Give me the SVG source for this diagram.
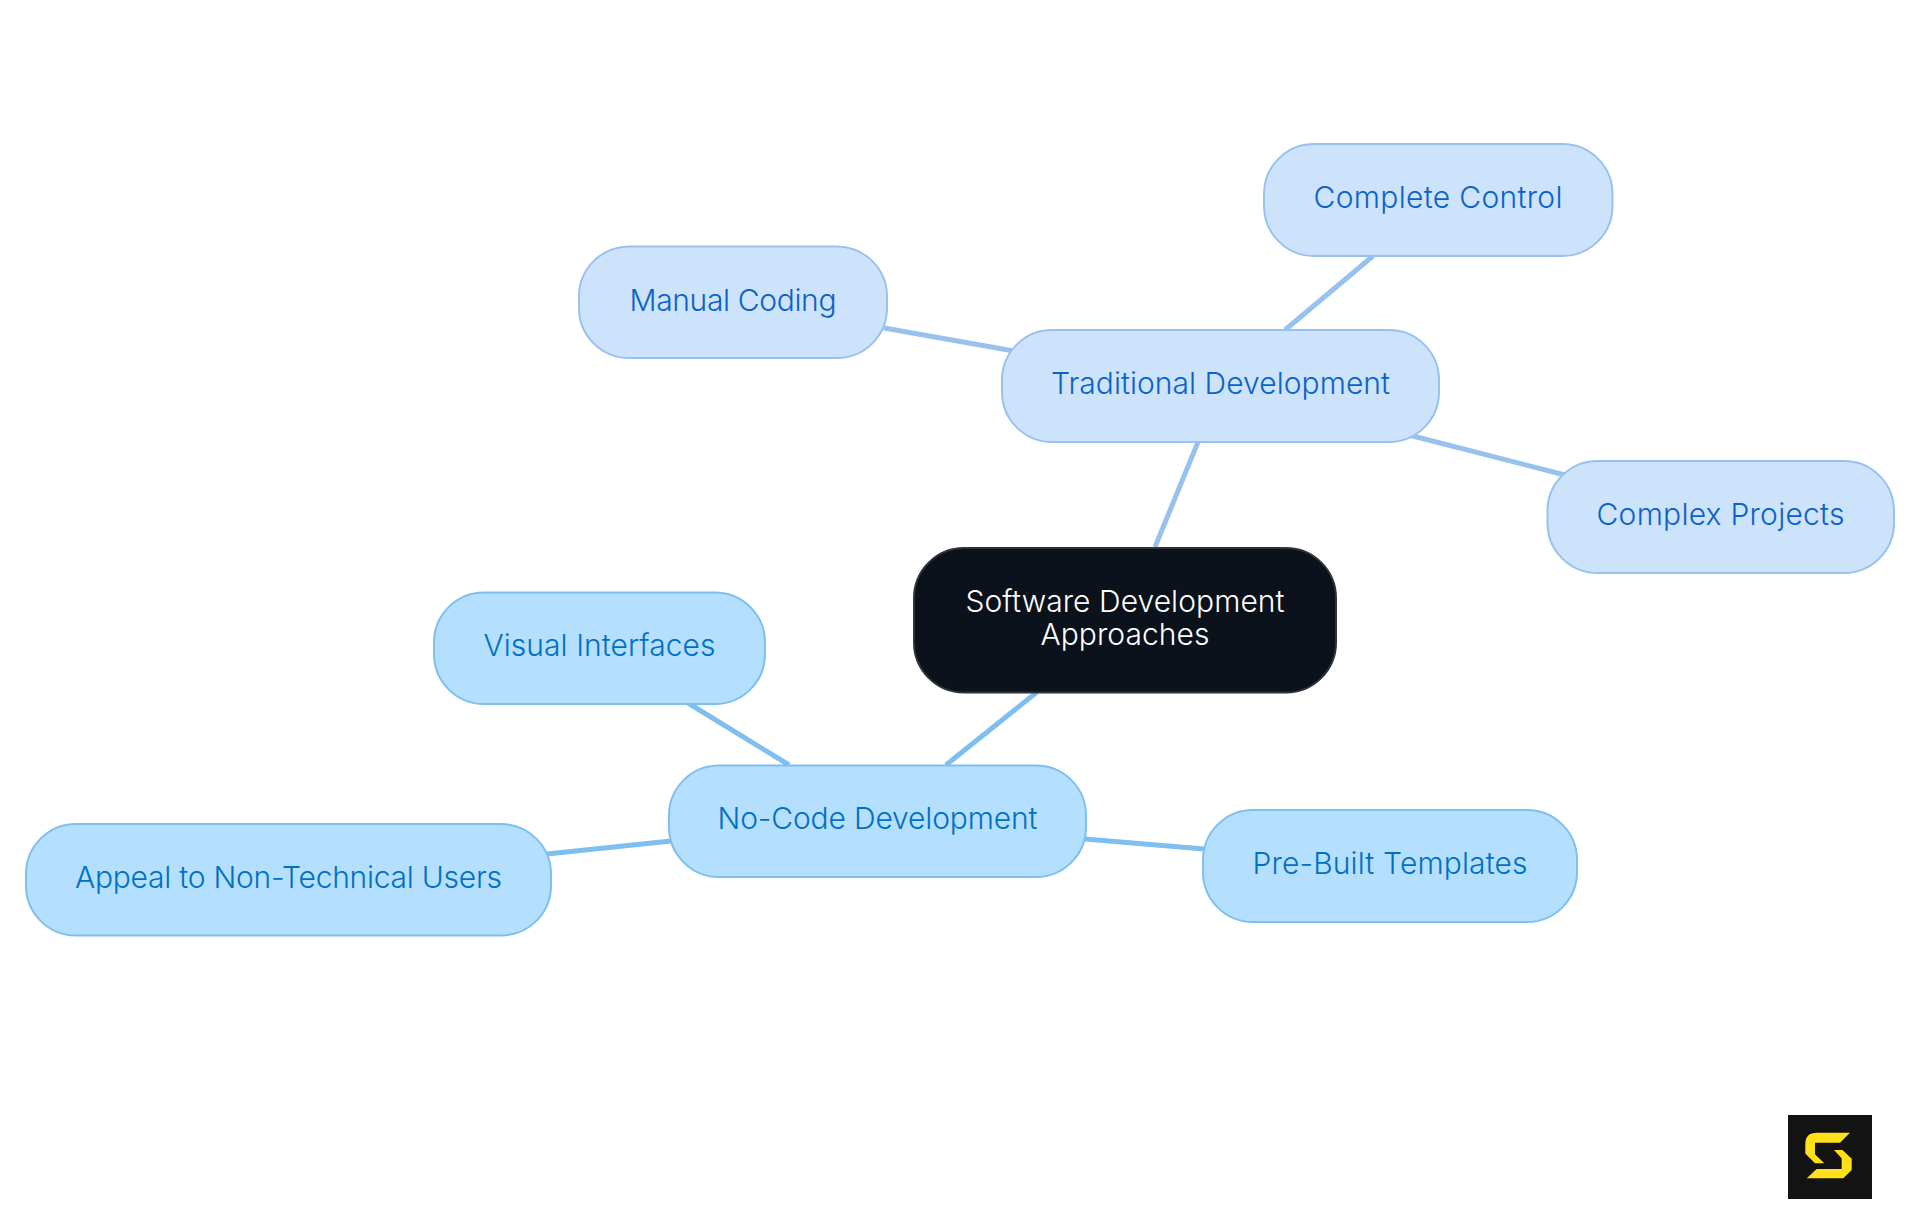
<svg xmlns="http://www.w3.org/2000/svg" width="1920" height="1215" viewBox="0 0 1920 1215">
<style>
text{font-family:"Inter","Noto Sans",sans-serif;font-size:30px;text-anchor:middle;font-weight:300}
.t rect{fill:#cde3fc;stroke:#98c1ef;stroke-width:2}
.t text{fill:#0a62c9}
.n rect{fill:#b5dfff;stroke:#7fbff0;stroke-width:2}
.n text{fill:#0070c4}
.cb line{stroke:#98c1ef;stroke-width:5}
.cn line{stroke:#7fbff0;stroke-width:5}
</style>
<rect width="1920" height="1215" fill="#fff"/>
<g id="connectors">
<g class="cb">
<line x1="1155" y1="547" x2="1198" y2="442"/>
<line x1="1285" y1="330" x2="1373" y2="256"/>
<line x1="884" y1="328" x2="1014" y2="351"/>
<line x1="1409" y1="435" x2="1565" y2="475"/>
</g>
<g class="cn">
<line x1="946" y1="765" x2="1037" y2="692"/>
<line x1="789" y1="765" x2="688" y2="703"/>
<line x1="547" y1="854" x2="671" y2="841"/>
<line x1="1085" y1="839" x2="1204" y2="849"/>
</g>
</g>
<g id="root"><rect x="914" y="548" width="422" height="144.500" rx="50" fill="#0b121b" stroke="#2f343b" stroke-width="2"/>
<text x="1125" y="612" fill="#fff" textLength="319">Software Development</text><text x="1125" y="645" fill="#fff" textLength="169">Approaches</text></g>
<g id="traditional" class="t"><rect x="1002" y="330" width="437" height="112" rx="50"/><text x="1220.5" y="394" textLength="339">Traditional Development</text></g>
<g id="complete-control" class="t"><rect x="1264" y="144" width="348.500" height="112" rx="50"/><text x="1438" y="208" textLength="249">Complete Control</text></g>
<g id="manual-coding" class="t"><rect x="579" y="246.500" width="308" height="111.500" rx="50"/><text x="733" y="311" textLength="207">Manual Coding</text></g>
<g id="complex-projects" class="t"><rect x="1547.500" y="461" width="346.500" height="112" rx="50"/><text x="1720.5" y="525" textLength="248">Complex Projects</text></g>
<g id="no-code" class="n"><rect x="669" y="765.500" width="417" height="111.500" rx="50"/><text x="877.500" y="829" textLength="320">No-Code Development</text></g>
<g id="visual-interfaces" class="n"><rect x="434" y="592.500" width="331" height="111.500" rx="50"/><text x="599.500" y="656" textLength="232">Visual Interfaces</text></g>
<g id="appeal" class="n"><rect x="26" y="824" width="525" height="111.500" rx="50"/><text x="288.500" y="888" textLength="427">Appeal to Non-Technical Users</text></g>
<g id="pre-built" class="n"><rect x="1203" y="810" width="374" height="112" rx="50"/><text x="1390" y="874" textLength="275">Pre-Built Templates</text></g>
<g id="logo"><rect x="1788" y="1115" width="84" height="84" fill="#131313"/>
<path fill="#ffe01b" d="M1850 1132.700H1817Q1805.300 1132.700 1805.300 1144V1153.500L1815 1163.300H1824.300L1815 1154.300V1142.700H1840ZM1834 1150H1842.500L1851.700 1158.700V1170L1843.300 1178.300H1806.700L1816.700 1169H1841.700V1158.300Z"/></g>
</svg>
